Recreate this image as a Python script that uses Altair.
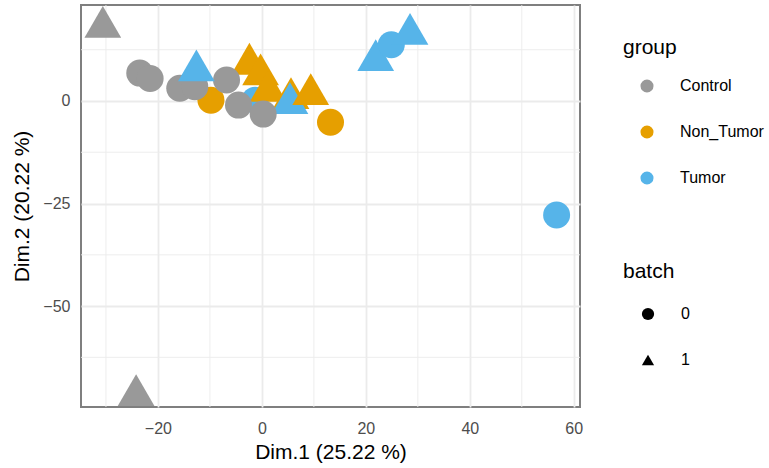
import altair as alt
import pandas as pd

# PCA individuals: coordinates on the first two dimensions
dim1 = [-9.8, -1.3, -2.4, -0.25, 1.2, 5.6, 5.4, 9.4,
        -15.8, -12.9, -23.5, -21.5, -6.8, -4.5, 0.25, -30.6, -24.2,
        -12.6, 13.2, 21.9, 24.9, 28.5, 56.7]
dim2 = [0.2, 0.2, 10.3, 7.7, 3.7, 1.9, 0.7, 2.9,
        3.1, 3.5, 6.8, 5.5, 5.1, -1.0, -3.2, 19.3, -70.5,
        8.7, -5.2, 11.2, 13.7, 17.6, -27.8]
group = ["Non_Tumor", "Tumor", "Non_Tumor", "Non_Tumor", "Non_Tumor", "Non_Tumor", "Tumor", "Non_Tumor",
         "Control", "Control", "Control", "Control", "Control", "Control", "Control", "Control", "Control",
         "Tumor", "Non_Tumor", "Tumor", "Tumor", "Tumor", "Tumor"]
batch = ["0", "0", "1", "1", "1", "1", "1", "1",
         "0", "0", "0", "0", "0", "0", "0", "1", "1",
         "1", "0", "1", "0", "1", "0"]

groups = ["Control", "Non_Tumor", "Tumor"]
group_colors = ["#999999", "#E69F00", "#56B4E9"]
batches = ["0", "1"]

x_major = [-20, 0, 20, 40, 60]
x_minor = [-30, -10, 10, 30, 50]
y_major = [-50, -25, 0]
y_minor = [-62.5, -37.5, -12.5, 12.5]
x_domain = [-34.8, 61.2]
y_domain = [-74.6, 23.4]

df = pd.DataFrame({"dim1": dim1, "dim2": dim2, "group": group, "batch": batch})
df["order"] = range(len(df))

FONT = "Liberation Sans"
GRID = "#EBEBEB"

xscale = alt.Scale(domain=x_domain, nice=False, zero=False)
yscale = alt.Scale(domain=y_domain, nice=False, zero=False)

minor_x = alt.Chart(pd.DataFrame({"v": x_minor})).mark_rule(
    color=GRID, strokeWidth=0.9
).encode(x=alt.X("v:Q", scale=xscale))

minor_y = alt.Chart(pd.DataFrame({"v": y_minor})).mark_rule(
    color=GRID, strokeWidth=0.9
).encode(y=alt.Y("v:Q", scale=yscale))

points = alt.Chart(df).mark_point(filled=True, opacity=1, strokeWidth=0).encode(
    x=alt.X("dim1:Q", scale=xscale,
            axis=alt.Axis(title="Dim.1 (25.22 %)", values=x_major, labelPadding=13,
                          titlePadding=5)),
    y=alt.Y("dim2:Q", scale=yscale,
            axis=alt.Axis(title="Dim.2 (20.22 %)", values=y_major, labelPadding=11,
                          titlePadding=10)),
    color=alt.Color("group:N", scale=alt.Scale(domain=groups, range=group_colors),
                    legend=alt.Legend(title="group", orient="none", legendX=542, legendY=32,
                                      symbolType="circle", symbolSize=170,
                                      symbolOffset=16, labelOffset=25,
                                      rowPadding=30, titlePadding=20,
                                      symbolStrokeWidth=0)),
    shape=alt.Shape("batch:N", scale=alt.Scale(domain=batches, range=["circle", "triangle-up"]),
                    legend=alt.Legend(title="batch", orient="none", legendX=542, legendY=256,
                                      symbolSize=150, symbolFillColor="black",
                                      symbolStrokeWidth=0,
                                      symbolOffset=17, labelOffset=25,
                                      rowPadding=30, titlePadding=24)),
    size=alt.condition("datum.batch == '1'", alt.value(1350), alt.value(729)),
    order=alt.Order("order:Q"),
)

chart = alt.layer(minor_x, minor_y, points).properties(
    width=499, height=402,
    autosize=alt.AutoSizeParams(type="none"),
    padding={"left": 81, "top": 5, "right": 189, "bottom": 61},
).configure_view(
    stroke="#7F7F7F", strokeWidth=2
).configure_axis(
    grid=True, gridColor=GRID, gridWidth=1.8,
    domain=False, ticks=False,
    labelFont=FONT, labelFontSize=16, labelColor="#4D4D4D",
    titleFont=FONT, titleFontSize=21, titleFontWeight="normal", titleColor="black",
).configure_legend(
    titleFont=FONT, titleFontSize=21, titleFontWeight="normal", titleColor="black",
    labelFont=FONT, labelFontSize=16, labelColor="black", padding=0,
)

chart.save("out.html", embed_options={"renderer": "svg", "actions": False})
